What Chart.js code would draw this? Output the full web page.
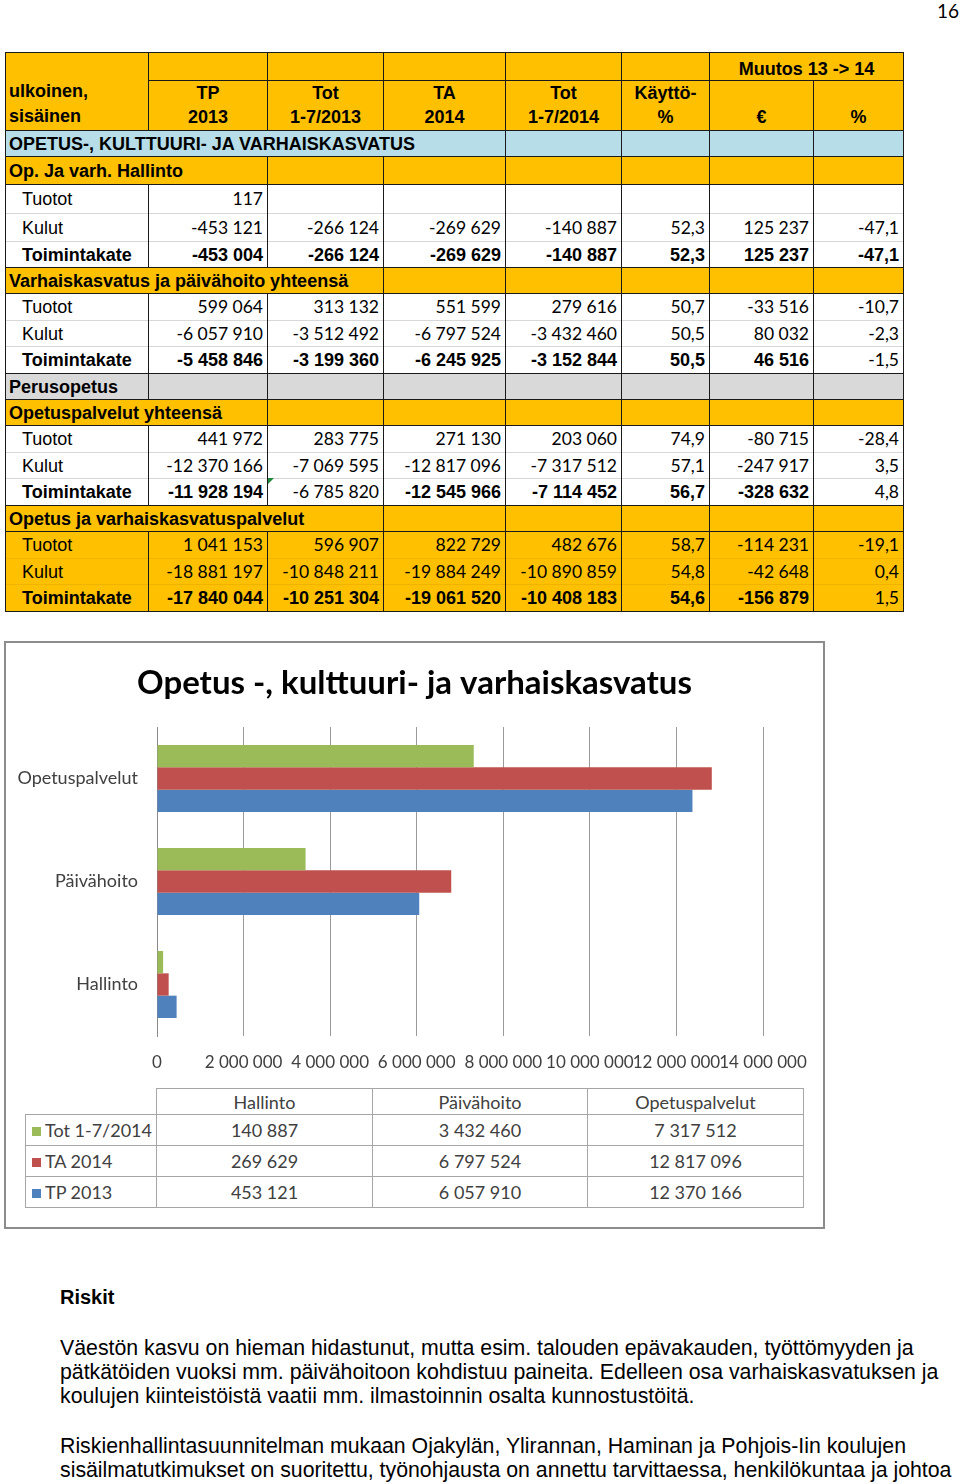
<!DOCTYPE html>
<html>
<head>
<meta charset="utf-8">
<script src="https://cdn.jsdelivr.net/npm/chart.js@4/dist/chart.umd.min.js"></script>
<style>
body { margin: 0; width: 960px; height: 1484px; position: relative; overflow: hidden; background: #fff; font-family: "Liberation Sans", Arial, sans-serif; color: #000; }
#pagenum { position: absolute; left: 937px; top: -1px; font: 19px Lato, sans-serif; }
#fin { position: absolute; left: 5px; top: 52px; border-collapse: collapse; table-layout: fixed; width: 898px; font-size: 18px; }
#fin td { border-left: 1px solid #1a1a1a; border-right: 1px solid #1a1a1a; padding: 0 4px; white-space: nowrap; overflow: visible; line-height: 20px; }
#fin td.num { text-align: right; font-family: Lato, sans-serif; font-size: 17.5px; }
#fin td.b { font-family: "Liberation Sans", Arial, sans-serif; font-weight: bold; font-size: 18px; }
#fin tr.hdr td { background: #ffc000; font-weight: bold; text-align: center; }
#fin tr.blue td { background: #b7dee8; font-weight: bold; border-top: 1px solid #1a1a1a; }
#fin tr.orange td { background: #ffc000; font-weight: bold; border-top: 1px solid #1a1a1a; }
#fin tr.grey td { background: #d9d9d9; font-weight: bold; border-top: 1px solid #1a1a1a; }
#fin tr.data td { border-top: 1px solid #d8d8d8; }
#fin tr.first td { border-top: 1px solid #1a1a1a; }
#fin tr.last td { border-bottom: 1px solid #1a1a1a; }
#fin tr.gold td { background: #ffc000; border-top-color: #f0b400; }
#fin tr.gold.first td { border-top-color: #1a1a1a; }
#fin td.lbl { padding-left: 16px; }
#fin td.sec { padding-left: 3px; }
.tri { position: absolute; width: 0; height: 0; border-top: 6px solid #1f8a3a; border-right: 6px solid transparent; }
#box { position: absolute; left: 4px; top: 641px; width: 817px; height: 584px; border: 2px solid #8c8c8c; background: #fff; }
#c { position: absolute; left: 6px; top: 643px; }
#dt { position: absolute; left: 25px; top: 1088px; border-collapse: collapse; table-layout: fixed; font: 18px Lato, sans-serif; color: #404040; }
#dt td { border: 1px solid #a6a6a6; text-align: center; white-space: nowrap; padding: 0; }
#dt tr.h td { height: 25px; }
#dt tr.v td { height: 30px; }
#dt td.corner { border: none; border-right: 1px solid #a6a6a6; }
#dt td.key { text-align: left; padding-left: 6px; }
.sw { display: inline-block; width: 9px; height: 9px; margin-right: 4px; vertical-align: 1px; }
.txt { position: absolute; left: 60px; font-size: 21.3px; line-height: 24px; white-space: nowrap; }
</style>
</head>
<body>
<div id="pagenum">16</div>
<table id="fin"></table>
<div id="box"></div>
<canvas id="c" width="817" height="440"></canvas>
<table id="dt"></table>
<div class="txt" style="top:1285px;font-weight:bold;font-size:20px">Riskit</div>
<div class="txt" style="top:1336px">Väestön kasvu on hieman hidastunut, mutta esim. talouden epävakauden, työttömyyden ja<br>pätkätöiden vuoksi mm. päivähoitoon kohdistuu paineita. Edelleen osa varhaiskasvatuksen ja<br>koulujen kiinteistöistä vaatii mm. ilmastoinnin osalta kunnostustöitä.</div>
<div class="txt" style="top:1434px">Riskienhallintasuunnitelman mukaan Ojakylän, Ylirannan, Haminan ja Pohjois-Iin koulujen<br>sisäilmatutkimukset on suoritettu, työnohjausta on annettu tarvittaessa, henkilökuntaa ja johtoa</div>
<script>
// chart data
const chartTitle = 'Opetus -, kulttuuri- ja varhaiskasvatus';
const categories = ['Hallinto', 'Päivähoito', 'Opetuspalvelut'];
const seriesNames = ['Tot 1-7/2014', 'TA 2014', 'TP 2013'];
const tot2014 = [140887, 3432460, 7317512];
const ta2014 = [269629, 6797524, 12817096];
const tp2013 = [453121, 6057910, 12370166];
const seriesColors = ['#9bbb59', '#c0504d', '#4f81bd'];
const xMax = 14000000;
const xStep = 2000000;

// table above the chart ('~' = not bold in a bold row)
const colWidths = [143, 119, 116, 122, 116, 88, 104, 90];
const headTop = ['', '', '', '', '', 'Muutos 13 -> 14'];
const headBottom = ['TP<br>2013', 'Tot<br>1-7/2013', 'TA<br>2014', 'Tot<br>1-7/2014', 'Käyttö-<br>%', '€', '%'];
const tableRows = [
  ['blue', 'OPETUS-, KULTTUURI- JA VARHAISKASVATUS', 4, 26],
  ['orange', 'Op. Ja varh. Hallinto', 2, 28],
  ['data', 'Tuotot', ['117', '', '', '', '', '', ''], 29],
  ['data', 'Kulut', ['-453 121', '-266 124', '-269 629', '-140 887', '52,3', '125 237', '-47,1'], 28],
  ['total', 'Toimintakate', ['-453 004', '-266 124', '-269 629', '-140 887', '52,3', '125 237', '-47,1'], 26],
  ['orange', 'Varhaiskasvatus ja päivähoito yhteensä', 3, 26],
  ['data', 'Tuotot', ['599 064', '313 132', '551 599', '279 616', '50,7', '-33 516', '-10,7'], 27],
  ['data', 'Kulut', ['-6 057 910', '-3 512 492', '-6 797 524', '-3 432 460', '50,5', '80 032', '-2,3'], 26],
  ['total', 'Toimintakate', ['-5 458 846', '-3 199 360', '-6 245 925', '-3 152 844', '50,5', '46 516', '~-1,5'], 27],
  ['grey', 'Perusopetus', 1, 26],
  ['orange', 'Opetuspalvelut yhteensä', 2, 26],
  ['data', 'Tuotot', ['441 972', '283 775', '271 130', '203 060', '74,9', '-80 715', '-28,4'], 27],
  ['data', 'Kulut', ['-12 370 166', '-7 069 595', '-12 817 096', '-7 317 512', '57,1', '-247 917', '3,5'], 26],
  ['total', 'Toimintakate', ['-11 928 194', '~-6 785 820', '-12 545 966', '-7 114 452', '56,7', '-328 632', '~4,8'], 27],
  ['orange', 'Opetus ja varhaiskasvatuspalvelut', 3, 26],
  ['gdata', 'Tuotot', ['1 041 153', '596 907', '822 729', '482 676', '58,7', '-114 231', '-19,1'], 27],
  ['gdata', 'Kulut', ['-18 881 197', '-10 848 211', '-19 884 249', '-10 890 859', '54,8', '-42 648', '0,4'], 26],
  ['gtotal', 'Toimintakate', ['-17 840 044', '-10 251 304', '-19 061 520', '-10 408 183', '54,6', '-156 879', '~1,5'], 27]
];

function fmt(n) {
  return String(n).replace(/\B(?=(\d{3})+(?!\d))/g, ' ');
}

// build top table
let html = '<colgroup>' + colWidths.map(w => '<col style="width:' + w + 'px">').join('') + '</colgroup>';
html += '<tr class="hdr" style="height:28px"><td rowspan="2" style="text-align:left;vertical-align:bottom;padding:0 0 1px 3px;line-height:25px;border-top:1px solid #1a1a1a">ulkoinen,<br>sisäinen</td>';
headTop.forEach((t, i) => {
  html += '<td' + (i === 5 ? ' colspan="2"' : '') + ' style="border-top:1px solid #1a1a1a;border-bottom:1px solid #1a1a1a;vertical-align:bottom;padding-bottom:1px">' + t + '</td>';
});
html += '</tr><tr class="hdr" style="height:48px">';
headBottom.forEach(t => {
  html += '<td style="vertical-align:bottom;padding-bottom:1px;line-height:24px">' + t + '</td>';
});
html += '</tr>';
let prev = 'hdr';
tableRows.forEach(r => {
  const kind = r[0];
  if (typeof r[2] === 'number') {
    html += '<tr class="' + kind + '" style="height:' + r[3] + 'px"><td class="sec" colspan="' + r[2] + '">' + r[1] + '</td>';
    for (let i = r[2]; i < 8; i++) html += '<td></td>';
    html += '</tr>';
  } else {
    const gold = kind.charAt(0) === 'g';
    const total = kind.indexOf('total') >= 0;
    let cls = 'data' + (gold ? ' gold' : '');
    if (prev !== 'data') cls += ' first';
    if (total) cls += ' last';
    html += '<tr class="' + cls + '" style="height:' + r[3] + 'px"><td class="lbl' + (total ? ' b' : '') + '">' + r[1] + '</td>';
    r[2].forEach(v => {
      const plain = v.charAt(0) === '~';
      const txt = plain ? v.slice(1) : v;
      html += '<td class="num' + (total && !plain ? ' b' : '') + '">' + txt + '</td>';
    });
    html += '</tr>';
  }
  prev = typeof r[2] === 'number' ? 'sec' : 'data';
});
document.getElementById('fin').innerHTML = html;
const tri = document.createElement('div');
tri.className = 'tri';
tri.style.left = '268px';
tri.style.top = '478px';
document.body.appendChild(tri);

// data table under the chart
const rowsData = [tot2014, ta2014, tp2013];
let dt = '<colgroup><col style="width:131px"><col style="width:216px"><col style="width:215px"><col style="width:216px"></colgroup>';
dt += '<tr class="h"><td class="corner"></td>' + categories.map(c => '<td>' + c + '</td>').join('') + '</tr>';
rowsData.forEach((arr, i) => {
  dt += '<tr class="v"><td class="key"><span class="sw" style="background:' + seriesColors[i] + '"></span>' + seriesNames[i] + '</td>' +
    arr.map(v => '<td>' + fmt(v) + '</td>').join('') + '</tr>';
});
document.getElementById('dt').innerHTML = dt;

// title centred on the whole chart box
const boxTitle = {
  id: 'boxTitle',
  afterDraw(c) {
    const g = c.ctx;
    g.save();
    g.font = 'bold 33px Lato';
    g.fillStyle = '#000';
    g.textAlign = 'center';
    g.textBaseline = 'middle';
    g.fillText(chartTitle, c.width / 2, 40);
    g.restore();
  }
};

// chart
const ctx = document.getElementById('c');
const chart = new Chart(ctx, {
  type: 'bar',
  data: {
    labels: categories,
    datasets: [
      { label: seriesNames[0], data: tot2014, backgroundColor: seriesColors[0] },
      { label: seriesNames[1], data: ta2014, backgroundColor: seriesColors[1] },
      { label: seriesNames[2], data: tp2013, backgroundColor: seriesColors[2] }
    ]
  },
  options: {
    indexAxis: 'y',
    responsive: false,
    animation: false,
    layout: { padding: { left: 0, right: 60, top: 84, bottom: 0 } },
    datasets: { bar: { categoryPercentage: 0.65, barPercentage: 1 } },
    plugins: {
      legend: { display: false },
      tooltip: { enabled: false },
      title: { display: false }
    },
    scales: {
      x: {
        min: 0,
        max: xMax,
        ticks: {
          stepSize: xStep,
          autoSkip: false,
          maxRotation: 0,
          minRotation: 0,
          padding: 16,
          color: '#404040',
          font: { family: 'Lato', size: 17 },
          callback: v => fmt(v)
        },
        grid: { color: '#9a9a9a', drawTicks: false },
        border: { display: false },
        afterFit: s => { s.height = 47; }
      },
      y: {
        reverse: true,
        ticks: { padding: 19, color: '#404040', font: { family: 'Lato', size: 18 } },
        grid: { display: false, drawTicks: false },
        border: { display: true, color: '#8a8a8a' },
        afterFit: s => { s.width = 151; }
      }
    }
  },
  plugins: [boxTitle]
});
</script>
</body>
</html>
